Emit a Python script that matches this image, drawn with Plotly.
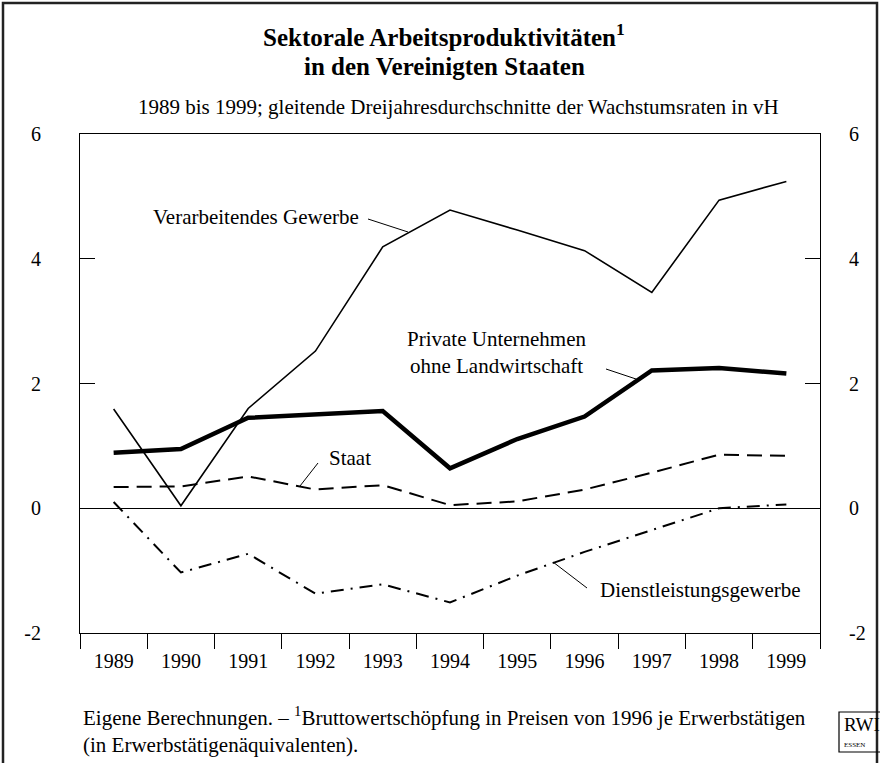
"""
Sektorale Arbeitsproduktivitäten in den Vereinigten Staaten, 1989-1999.
"""

import plotly.graph_objects as go

# ── data ────────────────────────────────────────────────────────────────────
years = ["1989", "1990", "1991", "1992", "1993", "1994",
         "1995", "1996", "1997", "1998", "1999"]

verarbeitendes = [1.59, 0.04, 1.60, 2.52, 4.19, 4.78, 4.46, 4.13, 3.46, 4.94, 5.24]
private = [0.89, 0.95, 1.45, 1.51, 1.56, 0.64, 1.11, 1.47, 2.21, 2.25, 2.16]
staat = [0.34, 0.35, 0.51, 0.30, 0.37, 0.05, 0.11, 0.30, 0.57, 0.86, 0.84]
dienst = [0.10, -1.03, -0.73, -1.37, -1.22, -1.51, -1.08, -0.70, -0.35, 0.00, 0.06]

y_ticks = [-2, 0, 2, 4, 6]
y_ticktext = ["-2", "0", "2", "4", "6"]

FONT = "Liberation Serif"
W, H = 880, 763
L, R, T, B = 80, 60, 134, 130


def px(x):
    """pixel x -> paper x"""
    return (x - L) / (W - L - R)


def py(y):
    """pixel y -> paper y"""
    return (H - B - y) / (H - T - B)


def note(text, x, y, size, anchor="center"):
    return dict(text=text, x=px(x), y=py(y), xref="paper", yref="paper",
                xanchor=anchor, yanchor="middle", align=anchor,
                showarrow=False, font=dict(size=size))


fig = go.Figure()

fig.add_trace(go.Scatter(
    x=years, y=private, mode="lines",
    line=dict(color="black", width=4.5),
))
fig.add_trace(go.Scatter(
    x=years, y=verarbeitendes, mode="lines",
    line=dict(color="black", width=1.6),
))
fig.add_trace(go.Scatter(
    x=years, y=staat, mode="lines",
    line=dict(color="black", width=2, dash="15px,8px"),
))
fig.add_trace(go.Scatter(
    x=years, y=dienst, mode="lines",
    line=dict(color="black", width=2, dash="13px,7px,2px,7px"),
))
# empty trace so the right-hand axis is drawn
fig.add_trace(go.Scatter(
    x=[years[0]], y=[None], yaxis="y2", mode="lines", hoverinfo="skip",
))

# ── labels with leader lines ────────────────────────────────────────────────
labels = [
    ("Verarbeitendes Gewerbe", 256, 217),
    ("Private Unternehmen<br>ohne Landwirtschaft", 497, 352),
    ("Staat", 350, 458),
    ("Dienstleistungsgewerbe", 700, 590),
]
leaders = [
    (368, 219, 408, 232),
    (606, 369, 636, 379),
    (318, 463, 300, 486),
    (587, 588, 553, 562),
]

annotations = [note(t, x, y, 21) for t, x, y in labels]

annotations += [
    note("<b>Sektorale Arbeitsproduktivitäten<sup>1</sup></b>", 444, 35, 25),
    note("<b>in den Vereinigten Staaten</b>", 444, 66, 25),
    note("1989 bis 1999; gleitende Dreijahresdurchschnitte der Wachstumsraten in vH",
         458, 107, 21),
    note("Eigene Berechnungen. – <sup>1</sup>Bruttowertschöpfung in Preisen "
         "von 1996 je Erwerbstätigen<br>(in Erwerbstätigenäquivalenten).",
         81, 730, 21, "left"),
    # RWI logo
    note("RWI", 842, 724, 19, "left"),
    note("ESSEN", 842, 745, 7, "left"),
]

shapes = [
    dict(type="line", xref="paper", yref="paper",
         x0=px(x0), y0=py(y0), x1=px(x1), y1=py(y1),
         line=dict(color="black", width=1))
    for x0, y0, x1, y1 in leaders
]
shapes += [
    # outer frame
    dict(type="rect", xref="paper", yref="paper",
         x0=px(3), y0=py(3), x1=px(877), y1=py(770),
         line=dict(color="#222", width=2.5)),
    # logo box
    dict(type="rect", xref="paper", yref="paper",
         x0=px(839), y0=py(712), x1=px(890), y1=py(752),
         line=dict(color="black", width=1.2)),
]

axis_common = dict(
    range=[-2, 6], tickvals=y_ticks, ticktext=y_ticktext,
    ticks="inside", ticklen=15, tickcolor="black",
    showline=True, linecolor="black", linewidth=1,
    showgrid=False, tickfont=dict(size=20),
)

fig.update_layout(
    width=W, height=H,
    margin=dict(l=L, r=R, t=T, b=B),
    paper_bgcolor="white", plot_bgcolor="white",
    font=dict(family=FONT, color="black"),
    showlegend=False,
    xaxis=dict(
        type="category", range=[-0.5, 10.5], tickson="boundaries",
        ticks="outside", ticklen=15, tickcolor="black",
        showline=True, mirror=True, linecolor="black", linewidth=1,
        showgrid=False, tickfont=dict(size=20), ticklabelstandoff=10,
    ),
    yaxis=dict(**axis_common, zeroline=True, zerolinecolor="black",
               zerolinewidth=1, ticklabelstandoff=34),
    yaxis2=dict(**axis_common, overlaying="y", side="right",
                zeroline=False, ticklabelstandoff=24),
    annotations=annotations,
    shapes=shapes,
)

fig.write_html(
    "out.html",
    config={"displayModeBar": False},
    post_script="document.body.style.margin='0px';",
)
